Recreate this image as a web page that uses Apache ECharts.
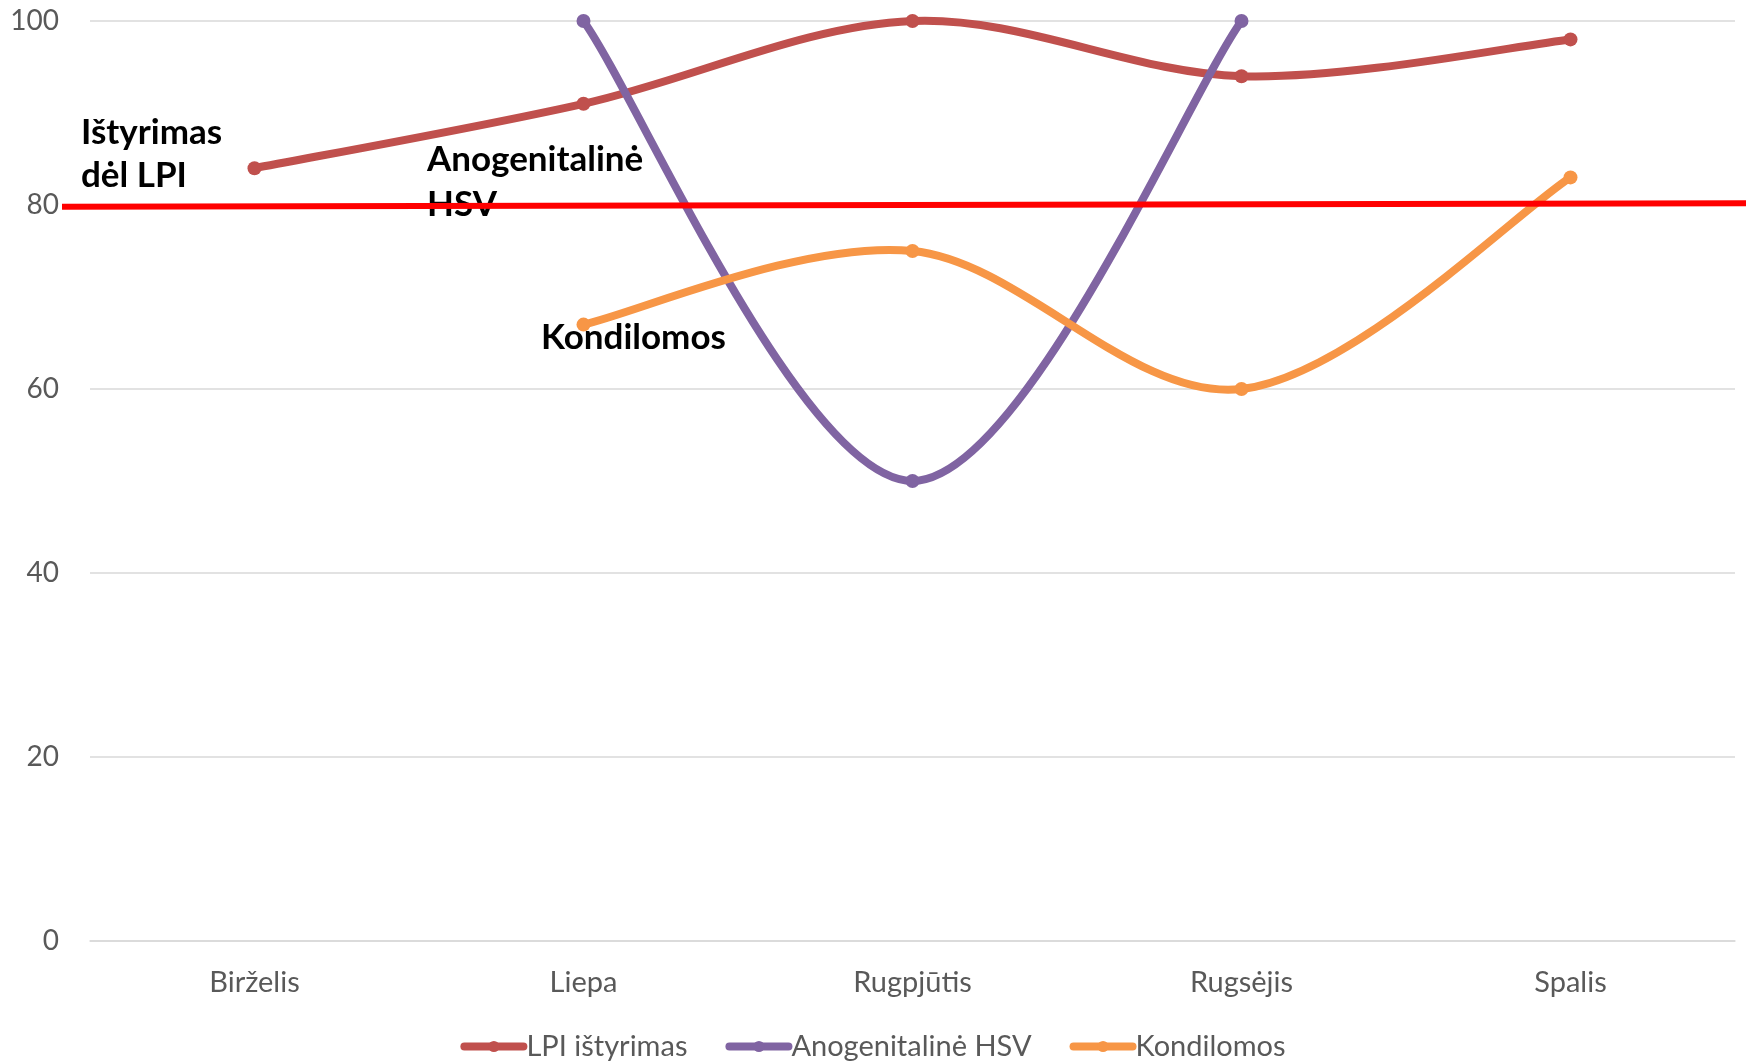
<!DOCTYPE html>
<html><head><meta charset="utf-8">
<script src="https://cdn.jsdelivr.net/npm/echarts@6/dist/echarts.min.js"></script>
<style>html,body{margin:0;padding:0;background:#fff}#c{width:1746px;height:1061px}</style>
</head><body><div id="c"></div>
<script>
var categories = ['Birželis', 'Liepa', 'Rugpjūtis', 'Rugsėjis', 'Spalis'];
var lpi = [84, 91, 100, 94, 98];
var hsv = [null, 100, 50, 100, null];
var kondilomos = [null, 67, 75, 60, 83];
var threshold = [[0, 79.8], [1, 80.2]];
var seriesNames = ['LPI ištyrimas', 'Anogenitalinė HSV', 'Kondilomos'];
var yTicks = [0, 20, 40, 60, 80, 100];

var FONT = 'Lato';
var COLORS = ['#C0504D', '#8064A2', '#F79646'];
var LW = 8;
var chart = echarts.init(document.getElementById('c'));

// markers (line hidden; curve drawn by Excel-style Catmull-Rom custom series)
function markerSeries(name, data, color) {
  return {
    name: name, type: 'line', data: data,
    xAxisIndex: 0, yAxisIndex: 0,
    symbol: 'circle', symbolSize: 14, showSymbol: true,
    lineStyle: { width: LW, color: color, opacity: 0 }, itemStyle: { color: color },
    connectNulls: false, z: 4
  };
}
function curveSeries(name, data, color) {
  var segs = [];
  for (var i = 0; i < data.length - 1; i++) {
    if (data[i] != null && data[i + 1] != null) segs.push([i, data[i]]);
  }
  return {
    name: name, type: 'custom', xAxisIndex: 0, yAxisIndex: 0, z: 3, silent: true,
    data: segs, encode: { x: 0, y: 1 },
    renderItem: function (params, api) {
      var i = api.value(0);
      function P(k) { return api.coord([k, data[k]]); }
      var p1 = P(i), p2 = P(i + 1);
      var p0 = (i - 1 >= 0 && data[i - 1] != null) ? P(i - 1) : p1;
      var p3 = (i + 2 < data.length && data[i + 2] != null) ? P(i + 2) : p2;
      return {
        type: 'bezierCurve',
        shape: {
          x1: p1[0], y1: p1[1], x2: p2[0], y2: p2[1],
          cpx1: p1[0] + (p2[0] - p0[0]) / 6, cpy1: p1[1] + (p2[1] - p0[1]) / 6,
          cpx2: p2[0] - (p3[0] - p1[0]) / 6, cpy2: p2[1] - (p3[1] - p1[1]) / 6
        },
        style: { stroke: color, lineWidth: LW, fill: null, lineCap: 'round' }
      };
    }
  };
}
var legendData = seriesNames.map(function (n, k) {
  return { name: n, itemStyle: { color: COLORS[k] },
    lineStyle: { color: COLORS[k], width: LW, opacity: 1, cap: 'round' } };
});
chart.setOption({
  animation: false,
  textStyle: { fontFamily: FONT },
  grid: [
    { left: 90, right: 11, top: 21, bottom: 120 },
    { left: 62, right: 0, top: 21, bottom: 120 }
  ],
  xAxis: [
    { type: 'category', gridIndex: 0, data: categories, boundaryGap: true,
      axisLine: { lineStyle: { color: '#D9D9D9', width: 1.5 } }, axisTick: { show: false },
      axisLabel: { color: '#595959', fontSize: 29, margin: 27, fontFamily: FONT } },
    { type: 'value', gridIndex: 1, min: 0, max: 1, show: false }
  ],
  yAxis: [
    { type: 'value', gridIndex: 0, min: 0, max: 100, interval: 20,
      axisLine: { show: false }, axisTick: { show: false },
      splitLine: { lineStyle: { color: '#D9D9D9', width: 1.5 } },
      axisLabel: { color: '#595959', fontSize: 28, margin: 31, fontFamily: FONT,
        formatter: function (v) { return yTicks.indexOf(v) >= 0 ? String(v) : ''; } } },
    { type: 'value', gridIndex: 1, min: 0, max: 100, show: false }
  ],
  legend: {
    data: legendData, top: 1027, left: 'center',
    itemWidth: 59, itemHeight: 14, itemGap: 38,
    textStyle: { color: '#595959', fontSize: 29, fontFamily: FONT, padding: [0, 0, 0, -2] }
  },
  series: [
    markerSeries(seriesNames[0], lpi, COLORS[0]),
    curveSeries(seriesNames[0], lpi, COLORS[0]),
    markerSeries(seriesNames[1], hsv, COLORS[1]),
    curveSeries(seriesNames[1], hsv, COLORS[1]),
    markerSeries(seriesNames[2], kondilomos, COLORS[2]),
    curveSeries(seriesNames[2], kondilomos, COLORS[2]),
    { type: 'line', xAxisIndex: 1, yAxisIndex: 1, data: threshold, symbol: 'none',
      lineStyle: { width: 6, color: '#FF0000' }, z: 10, silent: true }
  ],
  graphic: [
    { type: 'text', x: 81, y: 154, z: 5,
      style: { text: 'Ištyrimas\ndėl LPI', font: 'bold 35px ' + FONT, fill: '#000', lineHeight: 43, verticalAlign: 'middle' } },
    { type: 'text', x: 427, y: 182, z: 5,
      style: { text: 'Anogenitalinė\nHSV', font: 'bold 35px ' + FONT, fill: '#000', lineHeight: 45, verticalAlign: 'middle' } },
    { type: 'text', x: 541, y: 338, z: 5,
      style: { text: 'Kondilomos', font: 'bold 35px ' + FONT, fill: '#000', verticalAlign: 'middle' } }
  ]
});
</script></body></html>
